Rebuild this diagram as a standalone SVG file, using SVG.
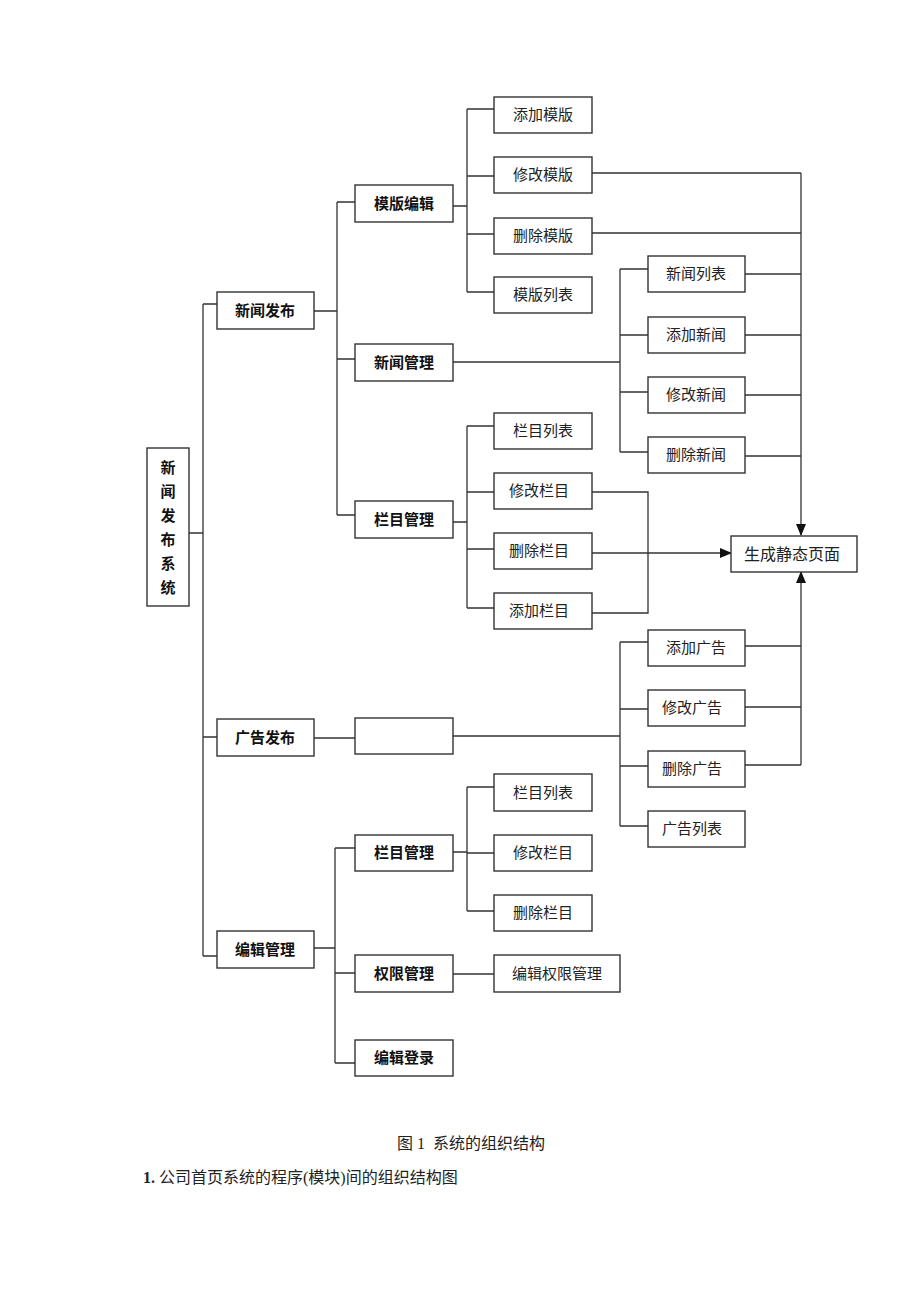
<svg xmlns="http://www.w3.org/2000/svg" width="920" height="1302" viewBox="0 0 920 1302">
<style>
.b{fill:#fff;stroke:#333;stroke-width:1.4}
.t{font-family:"Liberation Serif","Noto Sans CJK SC",serif;font-size:15px;fill:#222;text-anchor:middle;dominant-baseline:central}
.tb{font-family:"Liberation Serif","Noto Sans CJK SC",serif;font-size:15px;font-weight:bold;fill:#111;text-anchor:middle;dominant-baseline:central}
.c{fill:none;stroke:#333;stroke-width:1.3}
.cap{font-family:"Liberation Serif","Noto Sans CJK SC",serif;font-size:16px;fill:#222}
</style>
<defs>
<marker id="ah" markerWidth="12" markerHeight="10" refX="11" refY="5" orient="auto" markerUnits="userSpaceOnUse">
<path d="M0,0 L12,5 L0,10 Z" fill="#111"/>
</marker>
</defs>
<rect width="920" height="1302" fill="#fff"/>
<g id="connectors">
<path class="c" d="M189,533 H203 M203,304 V956 M203,304 H217 M203,737 H217 M203,956 H217"/>
<path class="c" d="M314,311 H337 M337,202 V515 M337,202 H355 M337,359 H355 M337,515 H355"/>
<path class="c" d="M453,206 H467 M467,109 V292 M467,109 H494 M467,176 H494 M467,234 H494 M467,292 H494"/>
<path class="c" d="M592,173 H801 M592,233 H801"/>
<path class="c" d="M453,362 H620 M620,269 V452 M620,269 H648 M620,335 H648 M620,392 H648 M620,452 H648"/>
<path class="c" d="M745,274 H801 M745,335 H801 M745,395 H801 M745,456 H801"/>
<path class="c" d="M801,173 V535" marker-end="url(#ah)"/>
<path class="c" d="M453,522 H467 M467,426 V608 M467,426 H494 M467,492 H494 M467,549 H494 M467,608 H494"/>
<path class="c" d="M592,492 H648 V613 H592"/>
<path class="c" d="M592,553 H731" marker-end="url(#ah)"/>
<path class="c" d="M314,738 H355 M453,736 H620 M620,642 V826 M620,642 H648 M620,709 H648 M620,766 H648 M620,826 H648"/>
<path class="c" d="M745,646 H801 M745,707 H801 M745,765 H801"/>
<path class="c" d="M801,765 V572" marker-end="url(#ah)"/>
<path class="c" d="M314,948 H335 M335,848 V1063 M335,848 H355 M335,973 H355 M335,1063 H355"/>
<path class="c" d="M453,852 H467 M467,787 V911 M467,787 H494 M467,853 H494 M467,911 H494"/>
<path class="c" d="M453,974 H494"/>
</g>
<g id="root"><rect class="b" x="147" y="448" width="42" height="158"/>
<text class="tb" x="168" y="468">新</text><text class="tb" x="168" y="492">闻</text><text class="tb" x="168" y="516">发</text><text class="tb" x="168" y="540">布</text><text class="tb" x="168" y="564">系</text><text class="tb" x="168" y="588">统</text></g>
<g id="n_xwfb"><rect class="b" x="217" y="292" width="97" height="37"/><text class="tb" x="265" y="311">新闻发布</text></g>
<g id="n_ggfb"><rect class="b" x="217" y="719" width="97" height="37"/><text class="tb" x="265" y="738">广告发布</text></g>
<g id="n_bjgl"><rect class="b" x="217" y="931" width="97" height="37"/><text class="tb" x="265" y="950">编辑管理</text></g>
<g id="n_mbbj"><rect class="b" x="355" y="185" width="98" height="37"/><text class="tb" x="404" y="204">模版编辑</text></g>
<g id="n_xwgl"><rect class="b" x="355" y="344" width="98" height="37"/><text class="tb" x="404" y="363">新闻管理</text></g>
<g id="n_lmgl1"><rect class="b" x="355" y="501" width="98" height="37"/><text class="tb" x="404" y="520">栏目管理</text></g>
<g id="n_empty"><rect class="b" x="355" y="718" width="98" height="36"/></g>
<g id="n_lmgl2"><rect class="b" x="355" y="835" width="98" height="36"/><text class="tb" x="404" y="853">栏目管理</text></g>
<g id="n_qxgl"><rect class="b" x="355" y="955" width="98" height="37"/><text class="tb" x="404" y="974">权限管理</text></g>
<g id="n_bjdl"><rect class="b" x="355" y="1040" width="98" height="36"/><text class="tb" x="404" y="1058">编辑登录</text></g>
<g id="n_tjmb"><rect class="b" x="494" y="97" width="98" height="36"/><text class="t" x="543" y="115">添加模版</text></g>
<g id="n_xgmb"><rect class="b" x="494" y="157" width="98" height="36"/><text class="t" x="543" y="175">修改模版</text></g>
<g id="n_scmb"><rect class="b" x="494" y="218" width="98" height="36"/><text class="t" x="543" y="236">删除模版</text></g>
<g id="n_mblb"><rect class="b" x="494" y="277" width="98" height="36"/><text class="t" x="543" y="295">模版列表</text></g>
<g id="n_xwlb"><rect class="b" x="648" y="256" width="97" height="36"/><text class="t" x="696" y="274">新闻列表</text></g>
<g id="n_tjxw"><rect class="b" x="648" y="317" width="97" height="36"/><text class="t" x="696" y="335">添加新闻</text></g>
<g id="n_xgxw"><rect class="b" x="648" y="377" width="97" height="36"/><text class="t" x="696" y="395">修改新闻</text></g>
<g id="n_scxw"><rect class="b" x="648" y="437" width="97" height="36"/><text class="t" x="696" y="455">删除新闻</text></g>
<g id="n_lmlb1"><rect class="b" x="494" y="413" width="98" height="36"/><text class="t" x="543" y="431">栏目列表</text></g>
<g id="n_xglm1"><rect class="b" x="494" y="473" width="98" height="36"/><text class="t" x="539" y="491">修改栏目</text></g>
<g id="n_sclm1"><rect class="b" x="494" y="533" width="98" height="36"/><text class="t" x="539" y="551">删除栏目</text></g>
<g id="n_tjlm1"><rect class="b" x="494" y="593" width="98" height="36"/><text class="t" x="539" y="611">添加栏目</text></g>
<g id="n_scjt"><rect class="b" x="731" y="536" width="126" height="36"/><text class="t" x="792" y="554" style="font-size:16px">生成静态页面</text></g>
<g id="n_tjgg"><rect class="b" x="648" y="630" width="97" height="36"/><text class="t" x="696" y="648">添加广告</text></g>
<g id="n_xggg"><rect class="b" x="648" y="690" width="97" height="36"/><text class="t" x="692" y="708">修改广告</text></g>
<g id="n_scgg"><rect class="b" x="648" y="751" width="97" height="36"/><text class="t" x="692" y="769">删除广告</text></g>
<g id="n_gglb"><rect class="b" x="648" y="811" width="97" height="36"/><text class="t" x="692" y="829">广告列表</text></g>
<g id="n_lmlb2"><rect class="b" x="494" y="774" width="98" height="37"/><text class="t" x="543" y="793">栏目列表</text></g>
<g id="n_xglm2"><rect class="b" x="494" y="835" width="98" height="36"/><text class="t" x="543" y="853">修改栏目</text></g>
<g id="n_sclm2"><rect class="b" x="494" y="895" width="98" height="36"/><text class="t" x="543" y="913">删除栏目</text></g>
<g id="n_bjqxgl"><rect class="b" x="494" y="955" width="126" height="37"/><text class="t" x="557" y="974">编辑权限管理</text></g>
<g id="caption">
<text class="cap" x="397" y="1149" xml:space="preserve">图 1  系统的组织结构</text>
<text class="cap" x="143" y="1183"><tspan font-weight="bold">1.</tspan> 公司首页系统的程序(模块)间的组织结构图</text>
</g>
</svg>
